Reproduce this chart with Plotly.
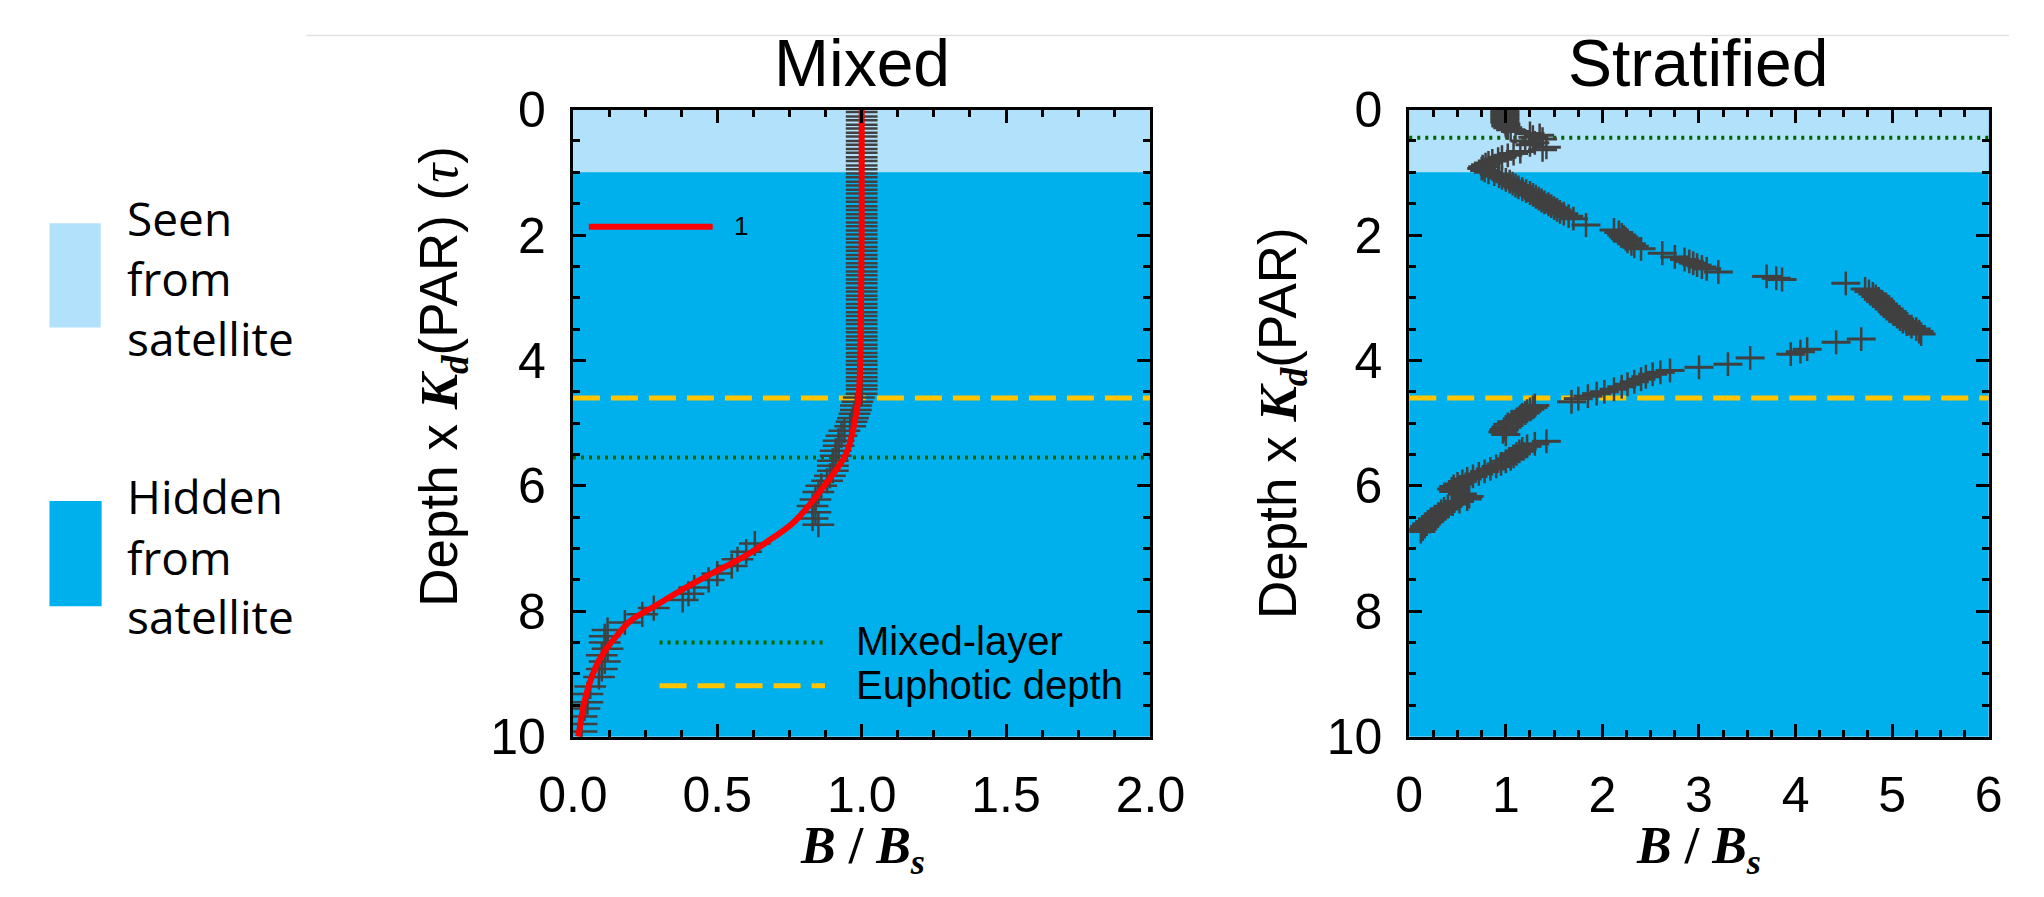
import plotly.graph_objects as go

W, H = 2044, 897

# ---------------- data ----------------
# Mixed panel: fitted profile (red line)
mixed_fit_depth = [0.0, 1.0, 2.0, 3.0, 4.0, 4.6, 5.0, 5.5, 6.0, 6.3, 6.6, 6.9, 7.15, 7.4,
                   7.65, 7.9, 8.15, 8.4, 8.65, 8.9, 9.4, 9.9, 10.0]
mixed_fit_b = [1.0, 1.0, 1.0, 0.998, 0.995, 0.989, 0.975, 0.945, 0.87, 0.82, 0.76, 0.67, 0.585,
               0.48, 0.38, 0.29, 0.2, 0.15, 0.108, 0.078, 0.042, 0.022, 0.018]

# Mixed panel: observations (gray crosses)
mixed_obs_depth = [0.04, 0.11, 0.17, 0.24, 0.30, 0.37, 0.43, 0.50, 0.56, 0.63, 0.69, 0.76, 0.82,
                   0.89, 0.95, 1.02, 1.08, 1.15, 1.21, 1.28, 1.34, 1.41, 1.47, 1.54, 1.60, 1.67,
                   1.73, 1.80, 1.86, 1.93, 1.99, 2.06, 2.12, 2.19, 2.25, 2.32, 2.38, 2.45, 2.51,
                   2.58, 2.64, 2.71, 2.77, 2.84, 2.90, 2.97, 3.03, 3.10, 3.16, 3.23, 3.29, 3.36,
                   3.42, 3.49, 3.55, 3.62, 3.68, 3.75, 3.81, 3.88, 3.94, 4.01, 4.07, 4.14, 4.20,
                   4.27, 4.33, 4.40, 4.46, 4.53, 4.59, 4.66, 4.72, 4.79, 4.85, 4.92, 4.98, 5.05,
                   5.12, 5.20, 5.28, 5.36, 5.44, 5.52, 5.60, 5.68, 5.76, 5.84, 5.92, 6.00, 6.10,
                   6.22, 6.32, 6.42, 6.52, 6.62, 6.92, 7.05, 7.17, 7.28, 7.40, 7.50, 7.62, 7.72,
                   7.82, 7.95, 8.05, 8.18, 8.30, 8.40, 8.50, 8.60, 8.70, 8.80, 8.92, 9.05, 9.20,
                   9.32, 9.45, 9.55, 9.68, 9.80, 9.92]
mixed_obs_b = [1.00, 1.00, 1.00, 1.00, 1.00, 1.00, 1.00, 1.00, 1.00, 1.00, 1.00, 1.00, 1.00,
               1.00, 1.00, 1.00, 1.00, 1.00, 1.00, 1.00, 1.00, 1.00, 1.00, 1.00, 1.00, 1.00,
               1.00, 1.00, 1.00, 1.00, 1.00, 1.00, 1.00, 1.00, 1.00, 1.00, 1.00, 1.00, 1.00,
               1.00, 1.00, 1.00, 1.00, 1.00, 1.00, 1.00, 1.00, 1.00, 1.00, 1.00, 1.00, 1.00,
               1.00, 1.00, 1.00, 1.00, 1.00, 1.00, 1.00, 1.00, 1.00, 1.00, 1.00, 1.00, 1.00,
               1.00, 1.00, 1.00, 1.00, 1.00, 0.99, 0.985, 0.98, 0.98, 0.975, 0.97, 0.965, 0.96,
               0.94, 0.93, 0.92, 0.92, 0.91, 0.91, 0.90, 0.90, 0.90, 0.89, 0.88, 0.86, 0.85,
               0.84, 0.83, 0.84, 0.83, 0.85, 0.63, 0.60, 0.57, 0.55, 0.50, 0.47, 0.42, 0.40,
               0.38, 0.28, 0.24, 0.18, 0.12, 0.11, 0.11, 0.12, 0.10, 0.11, 0.10, 0.09, 0.06,
               0.05, 0.05, 0.04, 0.03, 0.03, 0.03]

# Stratified panel: observations (gray crosses)
strat_obs_depth = [0.02, 0.05, 0.08, 0.11, 0.14, 0.17, 0.20, 0.23, 0.26, 0.29, 0.32, 0.35, 0.38,
                   0.41, 0.44, 0.47, 0.50, 0.53, 0.56, 0.60, 0.64, 0.67, 0.70, 0.73, 0.76, 0.79,
                   0.82, 0.85, 0.88, 0.91, 0.94, 0.97, 1.00, 1.03, 1.06, 1.09, 1.12, 1.15, 1.18,
                   1.21, 1.24, 1.27, 1.30, 1.33, 1.36, 1.39, 1.42, 1.45, 1.48, 1.51, 1.54, 1.57,
                   1.60, 1.63, 1.66, 1.70, 1.74, 1.84, 1.92, 1.96, 2.00, 2.03, 2.06, 2.10, 2.14,
                   2.18, 2.22, 2.29, 2.35, 2.39, 2.42, 2.45, 2.48, 2.51, 2.54, 2.59, 2.66, 2.69,
                   2.71, 2.77, 2.86, 2.90, 2.94, 2.98, 3.02, 3.06, 3.10, 3.14, 3.18, 3.22, 3.26,
                   3.30, 3.34, 3.38, 3.42, 3.46, 3.50, 3.54, 3.58, 3.66, 3.71, 3.82, 3.86, 3.90,
                   3.96, 4.06, 4.11, 4.16, 4.19, 4.22, 4.26, 4.30, 4.34, 4.38, 4.42, 4.46, 4.50,
                   4.53, 4.57, 4.61, 4.66, 4.72, 4.75, 4.78, 4.81, 4.84, 4.87, 4.90, 4.94, 4.98,
                   5.02, 5.06, 5.10, 5.14, 5.18, 5.29, 5.33, 5.37, 5.41, 5.45, 5.49, 5.53, 5.57,
                   5.61, 5.65, 5.69, 5.73, 5.77, 5.81, 5.85, 5.89, 5.93, 5.97, 6.01, 6.05, 6.09,
                   6.13, 6.17, 6.21, 6.25, 6.29, 6.33, 6.37, 6.41, 6.45, 6.49, 6.53, 6.57, 6.61,
                   6.65, 6.69, 6.73]
strat_obs_b = [0.99, 0.99, 0.99, 0.99, 0.99, 0.99, 0.99, 1.00, 1.00, 1.02, 1.05, 1.10, 1.25,
               1.35, 1.28, 1.38, 1.20, 1.30, 1.25, 1.42, 1.38, 1.15, 1.08, 1.02, 0.96, 0.92,
               0.86, 0.82, 0.79, 0.76, 0.75, 0.78, 0.82, 0.88, 0.93, 0.96, 1.00, 1.04, 1.07,
               1.10, 1.13, 1.17, 1.21, 1.25, 1.28, 1.31, 1.34, 1.37, 1.40, 1.44, 1.47, 1.50,
               1.53, 1.56, 1.60, 1.65, 1.70, 1.83, 2.12, 2.17, 2.20, 2.22, 2.24, 2.26, 2.30,
               2.33, 2.40, 2.62, 2.75, 2.85, 2.90, 2.94, 2.98, 3.03, 3.08, 3.20, 3.70, 3.80,
               3.86, 4.52, 4.72, 4.76, 4.80, 4.83, 4.86, 4.88, 4.91, 4.94, 4.97, 5.00, 5.02,
               5.05, 5.08, 5.11, 5.15, 5.20, 5.25, 5.28, 5.30, 4.68, 4.42, 4.12, 4.05, 3.95,
               3.53, 3.30, 3.00, 2.70, 2.60, 2.52, 2.45, 2.40, 2.33, 2.26, 2.20, 2.12, 2.02,
               1.94, 1.85, 1.75, 1.68, 1.30, 1.28, 1.25, 1.22, 1.20, 1.17, 1.15, 1.12, 1.06,
               1.02, 1.00, 0.98, 0.97, 1.00, 1.42, 1.30, 1.22, 1.17, 1.14, 1.11, 1.08, 1.05,
               1.00, 0.95, 0.90, 0.84, 0.78, 0.72, 0.66, 0.60, 0.55, 0.50, 0.46, 0.44, 0.46,
               0.55, 0.62, 0.60, 0.52, 0.45, 0.40, 0.36, 0.33, 0.30, 0.27, 0.24, 0.21, 0.18,
               0.16, 0.14, 0.12]

# reference depths
seen_depth = [0.0, 1.0]            # optical depth seen from satellite
mixed_layer = [5.55, 0.45]         # mixed panel, stratified panel
euphotic = [4.6, 4.6]

titles = ["Mixed", "Stratified"]
x_ranges = [[0, 2], [0, 6]]
x_ticks = [[0.0, 0.5, 1.0, 1.5, 2.0], [0, 1, 2, 3, 4, 5, 6]]
x_ticklabels = [["0.0", "0.5", "1.0", "1.5", "2.0"], ["0", "1", "2", "3", "4", "5", "6"]]
y_ticks = [0, 2, 4, 6, 8, 10]

# ---------------- style ----------------
LIGHT = "#B2E1FB"
DARK = "#00B0EC"
GRAY = "#404040"
GREEN = "#006400"
GOLD = "#FFC400"
SANS = "Liberation Sans, Arial, sans-serif"
SERIF = "Liberation Serif, Times New Roman, serif"


def px(x):
    return x / W


def py(y):
    return 1 - y / H


fig = go.Figure()

# crosses
fig.add_trace(go.Scatter(
    x=mixed_obs_b, y=mixed_obs_depth, mode="markers", xaxis="x", yaxis="y",
    marker=dict(size=1, color="rgba(0,0,0,0)"),
    error_x=dict(type="constant", value=0.055, width=0, thickness=2.5, color=GRAY),
    error_y=dict(type="constant", value=0.2, width=0, thickness=2.5, color=GRAY),
    showlegend=False, hoverinfo="skip"))
fig.add_trace(go.Scatter(
    x=mixed_fit_b, y=mixed_fit_depth, mode="lines", xaxis="x", yaxis="y",
    line=dict(color="#FF0000", width=6, shape="spline"), showlegend=False))
fig.add_trace(go.Scatter(
    x=strat_obs_b, y=strat_obs_depth, mode="markers", xaxis="x2", yaxis="y2",
    marker=dict(size=1, color="rgba(0,0,0,0)"),
    error_x=dict(type="constant", value=0.15, width=0, thickness=3, color=GRAY),
    error_y=dict(type="constant", value=0.19, width=0, thickness=2.5, color=GRAY),
    showlegend=False, hoverinfo="skip"))

# legend sample lines inside mixed panel
fig.add_trace(go.Scatter(x=[0.055, 0.484], y=[1.87, 1.87], mode="lines", xaxis="x", yaxis="y",
                         line=dict(color="#FF0000", width=6), showlegend=False))
fig.add_trace(go.Scatter(x=[0.30, 0.873], y=[8.5, 8.5], mode="lines", xaxis="x", yaxis="y",
                         line=dict(color=GREEN, width=4, dash="3px,5px"), showlegend=False))
fig.add_trace(go.Scatter(x=[0.30, 0.873], y=[9.19, 9.19], mode="lines", xaxis="x", yaxis="y",
                         line=dict(color=GOLD, width=5, dash="27px,11px"), showlegend=False))

shapes = []
axes_ids = [("x", "y"), ("x2", "y2")]
for i, (xa, ya) in enumerate(axes_ids):
    shapes.append(dict(type="rect", xref=f"{xa} domain", yref=ya, x0=0, x1=1,
                       y0=seen_depth[0], y1=seen_depth[1], fillcolor=LIGHT,
                       line=dict(width=0), layer="below"))
    shapes.append(dict(type="line", xref=f"{xa} domain", yref=ya, x0=0, x1=1,
                       y0=mixed_layer[i], y1=mixed_layer[i],
                       line=dict(color=GREEN, width=4, dash="3px,5px"), layer="below"))
    shapes.append(dict(type="line", xref=f"{xa} domain", yref=ya, x0=0, x1=1,
                       y0=euphotic[i], y1=euphotic[i],
                       line=dict(color=GOLD, width=5, dash="27px,11px"), layer="below"))

# left key boxes
shapes.append(dict(type="rect", xref="paper", yref="paper", x0=px(15), x1=px(68),
                   y0=py(320), y1=py(209), fillcolor=LIGHT, line=dict(width=0)))
shapes.append(dict(type="rect", xref="paper", yref="paper", x0=px(15), x1=px(69),
                   y0=py(617), y1=py(505), fillcolor=DARK, line=dict(width=0)))
# faint top rule
shapes.append(dict(type="line", xref="paper", yref="paper", x0=px(281), x1=1,
                   y0=py(9), y1=py(9), line=dict(color="#E2E2E2", width=1.5)))

annotations = []
# titles
for cx, t in zip([856, 1722], titles):
    annotations.append(dict(text=t, x=px(cx), y=py(38), xref="paper", yref="paper",
                            showarrow=False, font=dict(family=SANS, size=66, color="black"),
                            xanchor="center", yanchor="middle"))
# x axis titles
for cx in [857, 1722]:
    annotations.append(dict(text="<b><i>B</i> / <i>B</i><sub><i>s</i></sub></b>",
                            x=px(cx), y=py(876), xref="paper", yref="paper", showarrow=False,
                            font=dict(family=SERIF, size=52, color="black"),
                            xanchor="center", yanchor="middle"))
kd = "<span style='font-family:Liberation Serif'><b><i>K</i></b><sub><b><i>d</i></b></sub></span>"
annotations.append(dict(text="Depth x " + kd + "(PAR) (<span style='font-family:Liberation Serif'><i>τ</i></span>)",
                        x=px(422), y=py(372), xref="paper", yref="paper", showarrow=False,
                        textangle=-90, font=dict(family=SANS, size=53, color="black"),
                        xanchor="center", yanchor="middle"))
annotations.append(dict(text="Depth x " + kd + "(PAR)",
                        x=px(1290), y=py(422), xref="paper", yref="paper", showarrow=False,
                        textangle=-90, font=dict(family=SANS, size=53, color="black"),
                        xanchor="center", yanchor="middle"))
# in-panel legend texts
annotations.append(dict(text="1", x=0.55, y=1.85, xref="x", yref="y", showarrow=False,
                        xanchor="left", yanchor="middle", font=dict(family=SANS, size=26, color="black")))
annotations.append(dict(text="Mixed-layer", x=0.973, y=8.48, xref="x", yref="y", showarrow=False,
                        xanchor="left", yanchor="middle", font=dict(family=SANS, size=40, color="black")))
annotations.append(dict(text="Euphotic depth", x=0.973, y=9.18, xref="x", yref="y", showarrow=False,
                        xanchor="left", yanchor="middle", font=dict(family=SANS, size=40, color="black")))
# key texts
KEYF = dict(family="Open Sans, Noto Sans, sans-serif", size=46, color="black")
for txt, yy in [("Seen", 203), ("from", 267), ("satellite", 331),
                ("Hidden", 500), ("from", 565), ("satellite", 628)]:
    annotations.append(dict(text=txt, x=px(93), y=py(yy), xref="paper", yref="paper",
                            showarrow=False, xanchor="left", yanchor="middle", font=KEYF))

common_axis = dict(showline=True, linecolor="black", linewidth=3, mirror="ticks",
                   ticks="inside", ticklen=13, tickwidth=3, tickcolor="black",
                   showgrid=False, zeroline=False,
                   tickfont=dict(family=SANS, size=50, color="black"))

layout = dict(
    width=W, height=H, margin=dict(l=0, r=0, t=0, b=0),
    paper_bgcolor="white", plot_bgcolor=DARK, showlegend=False,
    shapes=shapes, annotations=annotations,
    xaxis=dict(domain=[px(557), px(1155)], range=x_ranges[0], tickvals=x_ticks[0],
               ticktext=x_ticklabels[0], anchor="y", ticklabelstandoff=12,
               minor=dict(dtick=0.125, ticklen=7, tickwidth=2.5, tickcolor="black", ticks="inside"),
               **common_axis),
    yaxis=dict(domain=[py(756), py(88)], range=[10, 0], tickvals=y_ticks, anchor="x",
               ticklabelstandoff=14,
               minor=dict(dtick=0.5, ticklen=7, tickwidth=2.5, tickcolor="black", ticks="inside"),
               **common_axis),
    xaxis2=dict(domain=[px(1423), px(2023)], range=x_ranges[1], tickvals=x_ticks[1],
                ticktext=x_ticklabels[1], anchor="y2", ticklabelstandoff=12,
                minor=dict(dtick=0.25, ticklen=7, tickwidth=2.5, tickcolor="black", ticks="inside"),
                **common_axis),
    yaxis2=dict(domain=[py(756), py(88)], range=[10, 0], tickvals=y_ticks, anchor="x2",
                ticklabelstandoff=14,
                minor=dict(dtick=0.5, ticklen=7, tickwidth=2.5, tickcolor="black", ticks="inside"),
                **common_axis),
)
fig.update_layout(**layout)
fig.write_html("out.html")
